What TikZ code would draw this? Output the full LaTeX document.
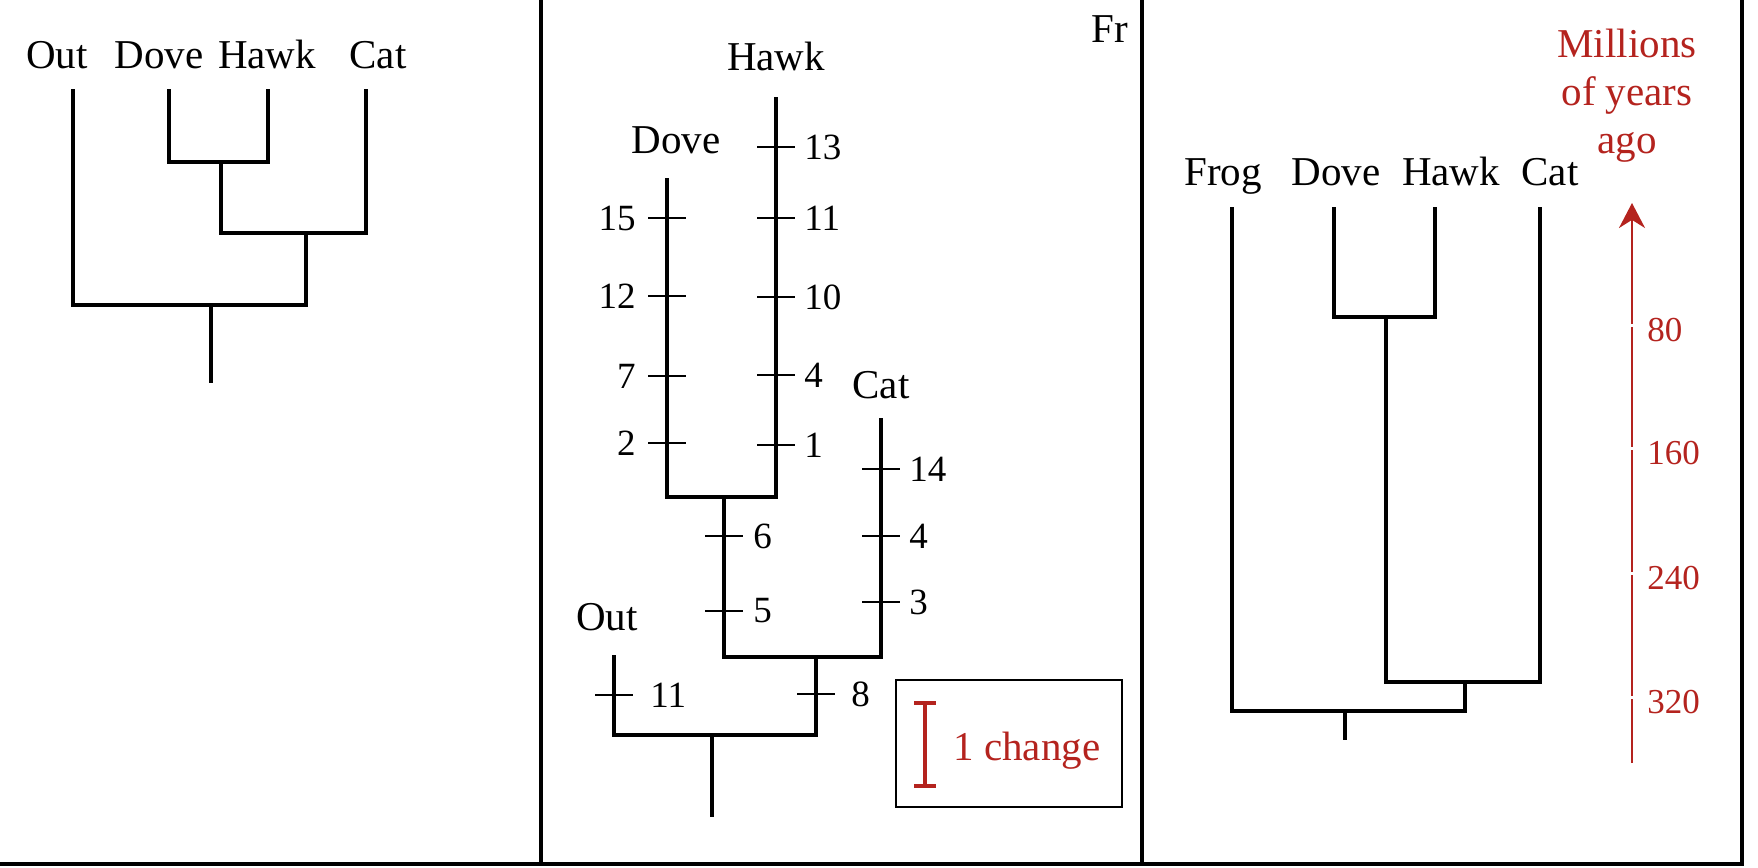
\documentclass[tikz,border=0pt]{standalone}
\usepackage{fontspec}
\setmainfont{Liberation Serif}
\usetikzlibrary{arrows.meta}
\definecolor{scalered}{RGB}{180, 35, 30}

\tikzset{
  branch/.style={line width=2.2pt},
  tickmark/.style={line width=0.9pt},
  lab/.style={font=\fontsize{20.5}{24}\selectfont, inner sep=0pt, anchor=base},
  num/.style={font=\fontsize{18.5}{20}\selectfont, inner sep=0pt},
  axnum/.style={font=\fontsize{17.5}{20}\selectfont, inner sep=0pt, anchor=west, scalered}
}

\begin{document}
\begin{tikzpicture}[x=0.5pt, y=-0.5pt, line join=miter]
        \useasboundingbox (0,0) rectangle (1758,868);

        % Frames
        \draw[line width=2.2pt] (0,864) -- (1742,864) -- (1742,0);
        \draw[line width=2.2pt] (541,0) -- (541,864);
        \draw[line width=2.2pt] (1142,0) -- (1142,864);

        % Left panel: plain tree
        \node[lab] (aoutlab) at (57,68) {Out};
        \node[lab] (adovelab) at (159,68) {Dove};
        \node[lab] (ahawklab) at (267,68) {Hawk};
        \node[lab] (acatlab) at (378,68) {Cat};
        \coordinate (aout) at (73,89);
        \coordinate (adove) at (169,89);
        \coordinate (ahawk) at (268,89);
        \coordinate (acat) at (366,89);
        \coordinate (adh) at (221,162);
        \coordinate (adhc) at (306,233);
        \coordinate (aroot) at (211,305);
        \coordinate (abase) at (211,383);
        \draw[branch] (adove) |- (adh) -| (ahawk);
        \draw[branch] (adh) |- (adhc) -| (acat);
        \draw[branch] (aout) |- (aroot) -| (adhc);
        \draw[branch] (aroot) -- (abase);

        % Middle panel: tree with changes
        \node[lab] (bhawklab) at (776,70) {Hawk};
        \node[lab] (bdovelab) at (676,153) {Dove};
        \node[lab] (bcatlab) at (881,398) {Cat};
        \node[lab] (boutlab) at (607,630) {Out};
        \node[lab, anchor=base west] (frlab) at (1091,42) {Fr};
        \coordinate (bhawk) at (776,97);
        \coordinate (bdove) at (667,178);
        \coordinate (bcat) at (881,418);
        \coordinate (bout) at (614,655);
        \coordinate (bdh) at (724,497);
        \coordinate (bdhc) at (816,657);
        \coordinate (broot) at (712,735);
        \coordinate (bbase) at (712,817);
        \draw[branch] (bdove) |- (bdh) -| (bhawk);
        \draw[branch] (bdh) |- (bdhc) -| (bcat);
        \draw[branch] (bout) |- (broot) -| (bdhc);
        \draw[branch] (broot) -- (bbase);

        \foreach \y/\n in {147/13, 218/11, 297/10, 375/4, 445/1} {
          \draw[tickmark] (757,\y) -- (795,\y);
          \node[num, anchor=west] (hk\n) at (804,\y) {\n};
        }
        \foreach \y/\n in {218/15, 296/12, 376/7, 443/2} {
          \draw[tickmark] (648,\y) -- (686,\y);
          \node[num, anchor=east] (dv\n) at (636,\y) {\n};
        }
        \foreach \y/\n in {536/6, 611/5} {
          \draw[tickmark] (705,\y) -- (743,\y);
          \node[num, anchor=west] (md\n) at (753,\y) {\n};
        }
        \foreach \y/\n in {469/14, 536/4, 602/3} {
          \draw[tickmark] (862,\y) -- (900,\y);
          \node[num, anchor=west] (ct\n) at (909,\y) {\n};
        }
        \draw[tickmark] (595,695) -- (633,695);
        \node[num, anchor=west] (ou11) at (650,695) {11};
        \draw[tickmark] (797,694) -- (835,694);
        \node[num, anchor=west] (br8) at (851,694) {8};

        % Scale box
        \draw[line width=0.9pt] (896,680) rectangle (1122,807);
        \draw[scalered, line width=2.2pt] (914,703) -- (936,703) (925,703) -- (925,786) (914,786) -- (936,786);
        \node[lab, anchor=base west, scalered] (chg) at (953,760) {1 change};

        % Right panel: dated tree
        \node[lab] (cfroglab) at (1223,185) {Frog};
        \node[lab] (cdovelab) at (1336,185) {Dove};
        \node[lab] (chawklab) at (1451,185) {Hawk};
        \node[lab] (ccatlab) at (1550,185) {Cat};
        \coordinate (cfrog) at (1232,207);
        \coordinate (cdove) at (1334,207);
        \coordinate (chawk) at (1435,207);
        \coordinate (ccat) at (1540,207);
        \coordinate (cdh) at (1386,317);
        \coordinate (cdhc) at (1465,682);
        \coordinate (croot) at (1345,711);
        \coordinate (cbase) at (1345,740);
        \draw[branch] (cdove) |- (cdh) -| (chawk);
        \draw[branch] (cdh) |- (cdhc) -| (ccat);
        \draw[branch] (cfrog) |- (croot) -| (cdhc);
        \draw[branch] (croot) -- (cbase);

        % Time axis
        \node[lab, scalered] (myr1) at (1627,57) {Millions};
        \node[lab, scalered] (myr2) at (1627,105) {of years};
        \node[lab, scalered] (myr3) at (1627,153) {ago};
        \coordinate (axbot) at (1632,763);
        \coordinate (axtop) at (1632,203);
        \draw[scalered, line width=1.2pt, -{Stealth[length=12.5pt, width=13pt]}] (axbot) -- (axtop);
        \foreach \y/\m in {325/80, 448/160, 573/240, 697/320} {
          \draw[white, line width=1.5pt] (1629,\y) -- (1635,\y);
          \node[axnum] (yr\m) at (1647,\y+5) {\m};
        }
\end{tikzpicture}
\end{document}
